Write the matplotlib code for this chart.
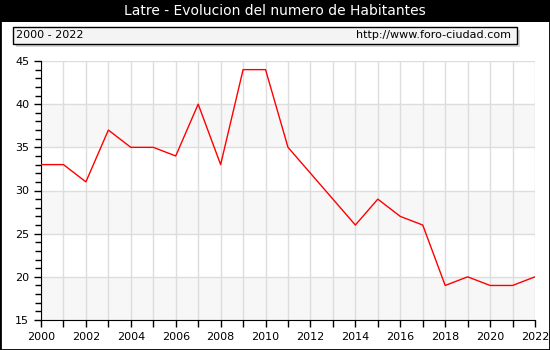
import numpy as np
import matplotlib
matplotlib.use("Agg")
import matplotlib.pyplot as plt
from matplotlib.patches import Rectangle
from matplotlib.ticker import MultipleLocator

# datos
years = list(range(2000, 2023))
habitantes = [33, 33, 31, 37, 35, 35, 34, 40, 33, 44, 44, 35, 32, 29, 26,
              29, 27, 26, 19, 20, 19, 19, 20]
title = "Latre - Evolucion del numero de Habitantes"
period = "2000 - 2022"
url = "http://www.foro-ciudad.com"

W, H = 550, 350
fig = plt.figure(figsize=(W / 100, H / 100), dpi=100)
fig.patch.set_facecolor("white")

# barra del titulo
fig.patches.append(Rectangle((0, 1 - 22 / H), 1, 22 / H, transform=fig.transFigure,
                             facecolor="black", edgecolor="none", zorder=0))
fig.text(0.5, 1 - 11 / H, title, ha="center", va="center", color="white", fontsize=10)

# caja con sombra
bx0, bx1, by0, by1 = 13, 517, 27, 44
fig.patches.append(Rectangle(((bx0 + 3) / W, 1 - (by1 + 3) / H), (bx1 - bx0) / W, (by1 - by0) / H,
                             transform=fig.transFigure, facecolor="#d8d8d8", edgecolor="none", zorder=1))
fig.patches.append(Rectangle((bx0 / W, 1 - by1 / H), (bx1 - bx0) / W, (by1 - by0) / H,
                             transform=fig.transFigure, facecolor="#f4f4f4", edgecolor="black",
                             linewidth=1, zorder=2))
fig.text((bx0 + 3) / W, 1 - (by0 + by1) / 2 / H, period, ha="left", va="center", fontsize=8, zorder=3)
fig.text((bx1 - 6) / W, 1 - (by0 + by1) / 2 / H, url, ha="right", va="center", fontsize=8, zorder=3)

# marco exterior
fig.patches.append(Rectangle((0, 0), 1, 1, transform=fig.transFigure, facecolor="none",
                             edgecolor="black", linewidth=2, zorder=5))

ax = fig.add_axes([41 / W, 1 - 320 / H, (535 - 41) / W, (320 - 61) / H])
ax.set_xlim(2000, 2022)
ax.set_ylim(15, 45)

# bandas alternas
for y0 in range(15, 45, 10):
    ax.axhspan(y0, y0 + 5, color="#f7f7f7", zorder=0, linewidth=0)

ax.set_xticks(range(2000, 2023, 2))
ax.set_xticks(years, minor=True)
ax.yaxis.set_major_locator(MultipleLocator(5))
ax.yaxis.set_minor_locator(MultipleLocator(1))
ax.grid(True, which="major", axis="y", color="#dddddd", linewidth=1, zorder=1)
ax.grid(True, which="minor", axis="x", color="#dddddd", linewidth=1, zorder=1)
ax.grid(True, which="major", axis="x", color="#dddddd", linewidth=1, zorder=1)

ax.plot(years, habitantes, color="red", linewidth=1, zorder=3)

for side in ["top", "right"]:
    ax.spines[side].set_visible(False)
ax.tick_params(axis="both", which="major", direction="out", length=5, labelsize=8, width=1)
ax.tick_params(axis="both", which="minor", direction="out", length=4, width=1)
ax.tick_params(axis="x", which="minor", length=5)

fig.savefig("out.png", dpi=100)
